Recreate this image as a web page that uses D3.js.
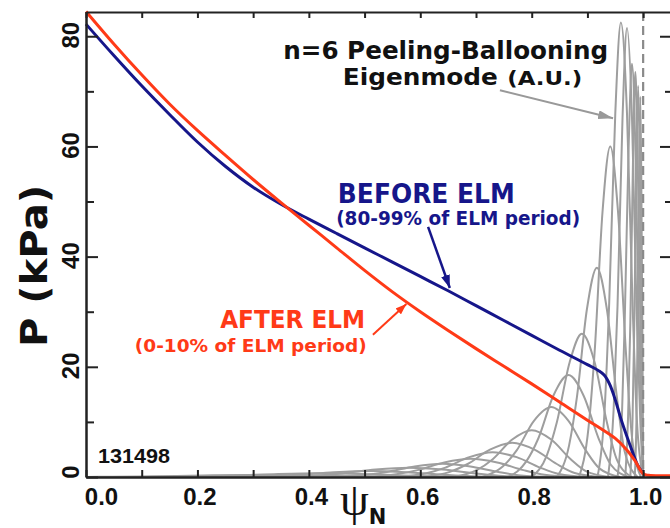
<!DOCTYPE html>
<html>
<head>
<meta charset="utf-8">
<script src="https://cdn.jsdelivr.net/npm/d3@7"></script>
<style>
  body { margin: 0; background: #fff; }
  svg { display: block; }
</style>
</head>
<body>
<div id="chart"></div>
<script>
// Pressure profiles (psi_N, kPa)
const beforePsi = [0, 0.05, 0.1, 0.15, 0.2, 0.25, 0.3, 0.35, 0.4, 0.45, 0.5, 0.55, 0.6, 0.65, 0.7, 0.75, 0.8, 0.85, 0.9, 0.92, 0.93, 0.94, 0.95, 0.96, 0.97, 0.98, 0.99, 1.0];
const beforeP = [82.2, 76.5, 71.0, 65.8, 60.8, 56.4, 52.6, 49.5, 46.8, 44.2, 41.6, 39.0, 36.4, 33.8, 31.1, 28.4, 25.7, 23.0, 20.4, 19.3, 18.5, 16.8, 14.0, 10.6, 7.6, 4.8, 2.2, 0.6];

const afterPsi = [0, 0.05, 0.1, 0.15, 0.2, 0.25, 0.3, 0.35, 0.4, 0.45, 0.5, 0.55, 0.6, 0.65, 0.7, 0.75, 0.8, 0.85, 0.9, 0.93, 0.95, 0.97, 0.985, 1.0, 1.01, 1.05];
const afterP = [84.5, 78.6, 73.0, 67.7, 62.9, 58.4, 54.0, 49.8, 45.7, 41.6, 37.5, 33.6, 30.0, 26.6, 23.3, 20.1, 16.9, 13.6, 10.3, 8.4, 7.0, 5.0, 3.0, 0.6, 0.3, 0.25];

// n=6 eigenmode poloidal harmonics, arbitrary units on the kPa scale
const eigenmodeHarmonics = [
  [[0.0, 0], [0.048, 0.05], [0.12, 0.13], [0.21, 0.28], [0.30, 0.35], [0.39, 0.28], [0.48, 0.13], [0.552, 0.04], [0.66, 0]],
  [[0.12, 0], [0.21, 0.1], [0.27, 0.27], [0.345, 0.56], [0.42, 0.7], [0.495, 0.56], [0.57, 0.27], [0.63, 0.08], [0.72, 0]],
  [[0.25, 0], [0.328, 0.16], [0.38, 0.42], [0.445, 0.88], [0.51, 1.1], [0.575, 0.88], [0.64, 0.42], [0.692, 0.13], [0.77, 0]],
  [[0.34, 0], [0.412, 0.26], [0.46, 0.65], [0.52, 1.36], [0.58, 1.7], [0.64, 1.36], [0.70, 0.65], [0.748, 0.2], [0.82, 0]],
  [[0.44, 0], [0.50, 0.36], [0.54, 0.91], [0.59, 1.92], [0.64, 2.4], [0.69, 1.92], [0.74, 0.91], [0.78, 0.29], [0.84, 0]],
  [[0.50, 0], [0.557, 0.5], [0.595, 1.25], [0.643, 2.64], [0.69, 3.3], [0.738, 2.64], [0.785, 1.25], [0.823, 0.4], [0.88, 0]],
  [[0.56, 0], [0.611, 0.68], [0.645, 1.71], [0.688, 3.6], [0.73, 4.5], [0.773, 3.6], [0.815, 1.71], [0.849, 0.54], [0.90, 0]],
  [[0.605, 0], [0.653, 0.93], [0.685, 2.36], [0.725, 4.96], [0.765, 6.2], [0.805, 4.96], [0.845, 2.36], [0.877, 0.74], [0.925, 0]],
  [[0.66, 0], [0.702, 1.28], [0.73, 3.23], [0.765, 6.8], [0.80, 8.5], [0.835, 6.8], [0.87, 3.23], [0.898, 1.02], [0.94, 0]],
  [[0.711, 0], [0.748, 1.9], [0.773, 4.83], [0.804, 10.2], [0.835, 12.7], [0.866, 10.2], [0.897, 4.83], [0.922, 1.52], [0.959, 0]],
  [[0.758, 0], [0.79, 2.78], [0.812, 7.03], [0.839, 14.8], [0.866, 18.5], [0.893, 14.8], [0.92, 7.03], [0.942, 2.22], [0.974, 0]],
  [[0.80, 0], [0.827, 3.9], [0.845, 9.88], [0.868, 20.8], [0.89, 26], [0.913, 20.8], [0.935, 9.88], [0.953, 3.12], [0.98, 0]],
  [[0.845, 0], [0.867, 5.7], [0.881, 14.4], [0.899, 30.4], [0.917, 38], [0.935, 30.4], [0.953, 14.4], [0.967, 4.56], [0.99, 0]],
  [[0.885, 0], [0.902, 9], [0.913, 22.8], [0.927, 48], [0.941, 60], [0.955, 48], [0.969, 22.8], [0.98, 7.2], [0.996, 0]],
  [[0.918, 0], [0.931, 12.4], [0.939, 31.4], [0.95, 66], [0.96, 82.5], [0.971, 66], [0.981, 31.4], [0.989, 9.9], [1.0, 0]],
  [[0.937, 0], [0.947, 12.2], [0.954, 31], [0.963, 65.2], [0.971, 81.5], [0.98, 65.2], [0.988, 31], [0.995, 9.8], [1.0, 0]],
  [[0.954, 0], [0.962, 11.3], [0.967, 28.5], [0.974, 60], [0.98, 75], [0.986, 60], [0.992, 28.5], [0.997, 9], [1.0, 0]],
  [[0.968, 0], [0.973, 11], [0.977, 28], [0.982, 58.8], [0.986, 73.5], [0.99, 58.8], [0.995, 28], [0.998, 8], [1.0, 0]],
  [[0.977, 0], [0.981, 10.7], [0.984, 27], [0.988, 56.8], [0.991, 71], [0.994, 56.8], [0.997, 25], [0.999, 8], [1.0, 0]],
  [[0.985, 0], [0.988, 10.4], [0.99, 26.2], [0.993, 55.2], [0.995, 69], [0.997, 50], [0.999, 20], [1.0, 0]]
];

const xTicks = [0, 0.2, 0.4, 0.6, 0.8, 1.0];
const xMinorTicks = [0.1, 0.3, 0.5, 0.7, 0.9];
const yTicks = [0, 20, 40, 60, 80];
const yMinorTicks = [10, 30, 50, 70];

const width = 670, height = 528;
const plot = { left: 86, right: 671, top: 12, bottom: 477 };

const blue = "#16168a", red = "#ff3a17", gray = "#9e9e9e";
const sans = "'DejaVu Sans', sans-serif";
const digits = "'Liberation Sans', Arial, sans-serif";

const x = d3.scaleLinear().domain([0, 1.05]).range([plot.left, plot.right]);
const y = d3.scaleLinear().domain([0, 84.4]).range([plot.bottom, plot.top]);

const svg = d3.select("#chart")
  .append("svg")
  .attr("width", width)
  .attr("height", height)
  .attr("viewBox", [0, 0, width, height]);

// arrow heads
const defs = svg.append("defs");
function addMarker(id, color, len, wid) {
  defs.append("marker")
    .attr("id", id)
    .attr("markerUnits", "userSpaceOnUse")
    .attr("viewBox", `0 0 ${len} ${wid}`)
    .attr("refX", len)
    .attr("refY", wid / 2)
    .attr("markerWidth", len)
    .attr("markerHeight", wid)
    .attr("orient", "auto")
    .append("path")
    .attr("d", `M0,0L${len},${wid / 2}L0,${wid}Z`)
    .attr("fill", color);
}
addMarker("arrowGray", "#999", 15, 9);
addMarker("arrowBlue", blue, 13, 9);
addMarker("arrowRed", red, 11, 8);

// eigenmode harmonics
const modeLine = d3.line()
  .x(d => x(d[0]))
  .y(d => y(d[1]))
  .curve(d3.curveMonotoneX);

svg.append("g")
  .selectAll("path")
  .data(eigenmodeHarmonics)
  .join("path")
  .attr("d", modeLine)
  .attr("fill", "none")
  .attr("stroke", gray)
  .attr("stroke-width", 2);

// separatrix
svg.append("line")
  .attr("x1", x(1.0)).attr("x2", x(1.0))
  .attr("y1", plot.top).attr("y2", plot.bottom)
  .attr("stroke", "#8a8a8a")
  .attr("stroke-width", 2.2)
  .attr("stroke-dasharray", "9,5");

// pressure profiles
const profileLine = d3.line()
  .x(d => x(d.psi))
  .y(d => y(d.p))
  .curve(d3.curveCatmullRom.alpha(0.5));

const before = beforePsi.map((v, i) => ({ psi: v, p: beforeP[i] }));
const after = afterPsi.map((v, i) => ({ psi: v, p: afterP[i] }));

svg.append("path")
  .attr("d", profileLine(before))
  .attr("fill", "none")
  .attr("stroke", blue)
  .attr("stroke-width", 3);

svg.append("path")
  .attr("d", profileLine(after))
  .attr("fill", "none")
  .attr("stroke", red)
  .attr("stroke-width", 3);

// axes
function styleAxis(g) {
  g.select(".domain").attr("stroke", "#222").attr("stroke-width", 2);
  g.selectAll(".tick line").attr("stroke", "#222").attr("stroke-width", 2);
}

const xAxis = svg.append("g")
  .attr("transform", `translate(0,${plot.bottom})`)
  .call(d3.axisBottom(x)
    .tickValues(xTicks)
    .tickSizeInner(-7)
    .tickSizeOuter(0)
    .tickPadding(11)
    .tickFormat(d3.format(".1f")))
  .call(styleAxis);

xAxis.selectAll(".tick text")
  .attr("font-family", digits)
  .attr("font-weight", "bold")
  .attr("font-size", 24)
  .attr("fill", "#111")
  .attr("dx", d => d === 0 ? 15 : 2);

svg.append("g")
  .attr("transform", `translate(0,${plot.bottom})`)
  .call(d3.axisBottom(x).tickValues(xMinorTicks).tickSizeInner(-7).tickSizeOuter(0).tickFormat(""))
  .call(styleAxis);

svg.append("g")
  .attr("transform", `translate(0,${plot.top})`)
  .call(d3.axisTop(x).tickValues(xTicks.concat(xMinorTicks)).tickSizeInner(-6).tickSizeOuter(0).tickFormat(""))
  .call(styleAxis);

svg.append("g")
  .attr("transform", `translate(${plot.left},0)`)
  .call(d3.axisLeft(y).tickValues(yTicks).tickSizeInner(-12).tickSizeOuter(0).tickFormat(""))
  .call(styleAxis);

svg.append("g")
  .attr("transform", `translate(${plot.left},0)`)
  .call(d3.axisLeft(y).tickValues(yMinorTicks).tickSizeInner(-8).tickSizeOuter(0).tickFormat(""))
  .call(styleAxis);

svg.append("g")
  .attr("transform", `translate(${plot.right},0)`)
  .call(d3.axisRight(y).tickValues(yTicks).tickSizeInner(-11).tickSizeOuter(0).tickFormat(""))
  .call(styleAxis);

svg.append("g")
  .attr("transform", `translate(${plot.right},0)`)
  .call(d3.axisRight(y).tickValues(yMinorTicks).tickSizeInner(-6).tickSizeOuter(0).tickFormat(""))
  .call(styleAxis);

// rotated y tick labels
svg.append("g")
  .selectAll("text")
  .data(yTicks)
  .join("text")
  .attr("transform", d => `translate(${plot.left - 7},${y(d)}) rotate(-90)`)
  .attr("text-anchor", "middle")
  .attr("dx", d => d === 0 ? 5 : 1)
  .attr("font-family", digits)
  .attr("font-weight", "bold")
  .attr("font-size", 24)
  .attr("fill", "#111")
  .text(d => d);

// axis titles
svg.append("text")
  .attr("transform", `translate(47,${y(38.3)}) rotate(-90)`)
  .attr("text-anchor", "middle")
  .attr("font-family", sans)
  .attr("font-weight", "bold")
  .attr("font-size", 38)
  .attr("textLength", 162)
  .attr("lengthAdjust", "spacingAndGlyphs")
  .attr("fill", "#111")
  .text("P (kPa)");

const xTitle = svg.append("text")
  .attr("x", x(0.456))
  .attr("y", 515)
  .attr("fill", "#111");
xTitle.append("tspan")
  .attr("font-family", "'Liberation Serif', 'Times New Roman', serif")
  .attr("font-size", 46)
  .text("ψ");
xTitle.append("tspan")
  .attr("font-family", sans)
  .attr("font-weight", "bold")
  .attr("font-size", 21)
  .attr("dy", 9)
  .text("N");

// annotations
function label(text, psi, p, opts) {
  return svg.append("text")
    .attr("x", x(psi))
    .attr("y", y(p))
    .attr("text-anchor", opts.anchor || "start")
    .attr("font-family", opts.family || sans)
    .attr("font-weight", "bold")
    .attr("font-size", opts.size)
    .attr("textLength", opts.length)
    .attr("lengthAdjust", "spacingAndGlyphs")
    .attr("fill", opts.color)
    .text(text);
}

function arrow(from, to, color, w, marker) {
  svg.append("line")
    .attr("x1", x(from[0])).attr("y1", y(from[1]))
    .attr("x2", x(to[0])).attr("y2", y(to[1]))
    .attr("stroke", color)
    .attr("stroke-width", w)
    .attr("marker-end", `url(#${marker})`);
}

label("n=6 Peeling-Ballooning", 0.354, 75.9, { size: 24, length: 325, color: "#111" });
label("Eigenmode", 0.461, 71.1, { size: 23, length: 155, color: "#111" });
label("(A.U.)", 0.756, 71.1, { size: 19, length: 75, color: "#111" });
arrow([0.743, 70.2], [0.946, 65.1], "#999", 2, "arrowGray");

label("BEFORE ELM", 0.452, 49.7, { size: 26, length: 177, color: blue });
label("(80-99% of ELM period)", 0.449, 45.7, { size: 19, length: 244, color: blue });
arrow([0.614, 45.4], [0.653, 34.3], blue, 2.5, "arrowBlue");

label("AFTER ELM", 0.501, 27.0, { size: 25, length: 145, color: red, anchor: "end" });
label("(0-10% of ELM period)", 0.504, 22.7, { size: 18.5, length: 232, color: red, anchor: "end" });
arrow([0.515, 25.8], [0.575, 31.4], red, 2, "arrowRed");

label("131498", 0.0215, 2.5, { size: 21, length: 72, color: "#111", family: digits });
</script>
</body>
</html>
